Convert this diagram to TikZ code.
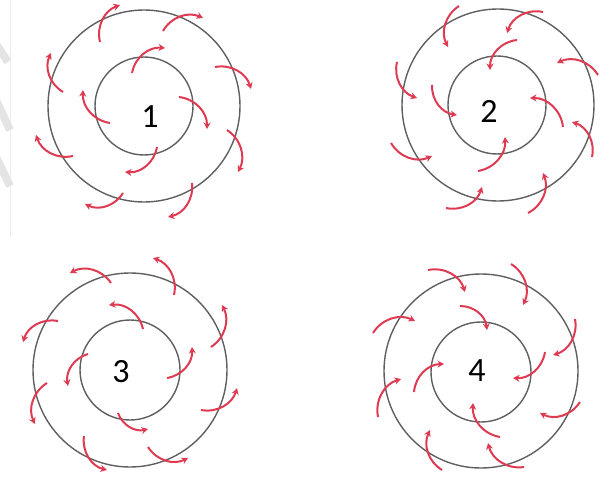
\documentclass[tikz,border=0pt]{standalone}
\usepackage{fontspec}
\setmainfont{Carlito}
\usetikzlibrary{arrows.meta}
\definecolor{arrred}{RGB}{222,58,82}
\definecolor{ringgray}{RGB}{95,95,95}
\definecolor{faint}{RGB}{228,228,228}
\tikzset{
  ring/.style={draw=ringgray, line width=1.4pt},
  arr/.style={draw=arrred, line width=2pt, -{Stealth[length=6.5pt,width=7pt]}},
  cw/.style={arr, bend left=42},
  ccw/.style={arr, bend right=42},
  num/.style={font=\fontsize{34}{34}\selectfont, inner sep=0pt},
  mark stripe/.style={draw=faint, line width=8pt}
}
\begin{document}
\begin{tikzpicture}[x=1pt,y=-1pt]
\useasboundingbox (0,0) rectangle (612,476);
% faint page-edge marks at the left
\draw[draw=faint!70, line width=0.8pt] (10,0) -- (10,236);
\draw[mark stripe] (-4,44) -- (8,62);
\draw[mark stripe] (-4,100) -- (10,130);
\draw[mark stripe] (-4,157) -- (10,186);
% ---------- Diagram 1 ----------
\draw[ring] (144,106) circle[radius=96];
\draw[ring] (144,106) circle[radius=49];
\node[num] (n1) at (150,117) {1};
\draw[cw] (100,42) to (120,5);
\draw[cw] (163,31) to (203,18);
\draw[cw] (215,67) to (251,89);
\draw[cw] (227,130) to (238,172);
\draw[cw] (192,183) to (168,217);
\draw[cw] (123,193) to (85,204);
\draw[cw] (73,156) to (36,135);
\draw[cw] (63,92) to (51,53);
\draw[cw] (132,73) to (165,48);
\draw[cw] (179,97) to (207,129);
\draw[cw] (157,147) to (125,172);
\draw[cw] (110,123) to (83,90);
% ---------- Diagram 2 ----------
\draw[ring] (498,105) circle[radius=96];
\draw[ring] (497,105) circle[radius=49];
\node[num] (n2) at (489,111) {2};
\draw[ccw] (543,12) to (507,33);
\draw[ccw] (459,6) to (448,47);
\draw[ccw] (397,62) to (417,98);
\draw[ccw] (391,143) to (432,156);
\draw[ccw] (446,208) to (482,187);
\draw[ccw] (528,213) to (543,173);
\draw[ccw] (592,157) to (572,122);
\draw[ccw] (598,75) to (557,63);
\draw[ccw] (517,40) to (490,70);
\draw[ccw] (432,85) to (457,115);
\draw[ccw] (478,171) to (505,137);
\draw[ccw] (563,127) to (530,98);
% ---------- Diagram 3 ----------
\draw[ring] (130,370) circle[radius=97];
\draw[ring] (130,370) circle[radius=50];
\node[num] (n3) at (121,372) {3};
\draw[ccw] (111,283) to (70,273);
\draw[ccw] (174,295) to (153,258);
\draw[ccw] (211,347) to (222,305);
\draw[ccw] (201,410) to (237,388);
\draw[ccw] (148,447) to (188,458);
\draw[ccw] (84,436) to (107,470);
\draw[ccw] (47,383) to (35,424);
\draw[ccw] (58,321) to (23,342);
\draw[ccw] (143,329) to (109,305);
\draw[ccw] (88,354) to (68,386);
\draw[ccw] (118,413) to (148,429);
\draw[ccw] (167,378) to (192,347);
% ---------- Diagram 4 ----------
\draw[ring] (481,371) circle[radius=97];
\draw[ring] (481,372) circle[radius=50];
\node[num] (n4) at (477,371) {4};
\draw[cw] (428,270) to (465,292);
\draw[cw] (511,264) to (523,305);
\draw[cw] (575,319) to (553,355);
\draw[cw] (580,402) to (540,413);
\draw[cw] (524,467) to (488,443);
\draw[cw] (442,470) to (430,430);
\draw[cw] (378,417) to (401,379);
\draw[cw] (373,333) to (415,321);
\draw[cw] (460,306) to (487,330);
\draw[cw] (414,392) to (444,364);
\draw[cw] (500,437) to (473,403);
\draw[cw] (545,352) to (513,378);
\end{tikzpicture}
\end{document}
